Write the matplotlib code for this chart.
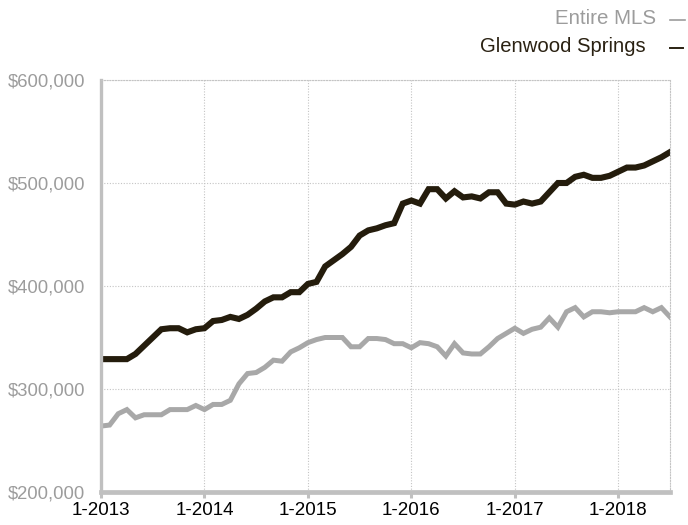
import matplotlib
matplotlib.use("Agg")
from matplotlib import pyplot as plt
from matplotlib.lines import Line2D

# Rolling 12-month median sales price, Jan 2013 - Jul 2018 (in $1000s)
glenwood = [329, 329, 329, 329, 334, 342, 350, 358, 359, 359, 355, 358,
            359, 366, 367, 370, 368, 372, 378, 385, 389, 389, 394, 394,
            402, 404, 419, 425, 431, 438, 449, 454, 456, 459, 461, 480,
            483, 480, 494, 494, 485, 492, 486, 487, 485, 491, 491, 480,
            479, 482, 480, 482, 491, 500, 500, 506, 508, 505, 505, 507,
            511, 515, 515, 517, 521, 525, 530]
entire_mls = [264, 265, 276, 280, 272, 275, 275, 275, 280, 280, 280, 284,
              280, 285, 285, 289, 305, 315, 316, 321, 328, 327, 336, 340,
              345, 348, 350, 350, 350, 341, 341, 349, 349, 348, 344, 344,
              340, 345, 344, 341, 332, 344, 335, 334, 334, 341, 349, 354,
              359, 354, 358, 360, 369, 360, 375, 379, 370, 375, 375, 374,
              375, 375, 375, 379, 375, 379, 370]
x_labels = ["1-2013", "1-2014", "1-2015", "1-2016", "1-2017", "1-2018"]
y_values = [200000, 300000, 400000, 500000, 600000]
y_labels = ["$200,000", "$300,000", "$400,000", "$500,000", "$600,000"]

dark = "#241c0c"
gray_line = "#a8a8a8"
axis_gray = "#c0c0c0"
label_gray = "#9c9c9c"

plt.rcParams["font.family"] = ["Liberation Sans", "DejaVu Sans"]

fig = plt.figure(figsize=(6.88, 5.25), dpi=100)
ax = fig.add_axes([101 / 688, 33 / 525, 569 / 688, 412 / 525])

months = list(range(len(glenwood)))
ax.plot(months, [v * 1000 for v in entire_mls], color=gray_line, lw=3.6,
        solid_joinstyle="miter", zorder=3)
ax.plot(months, [v * 1000 for v in glenwood], color=dark, lw=4.4,
        solid_joinstyle="miter", zorder=4)

ax.set_xlim(0, len(glenwood) - 1)
ax.set_ylim(200000, 600000)

ax.set_xticks(range(0, 12 * len(x_labels), 12))
ax.set_xticklabels(x_labels, fontsize=13.5, color="black")
ax.set_yticks(y_values)
ax.set_yticklabels(y_labels, fontsize=13.3, color=label_gray)

ax.tick_params(axis="x", length=4, width=2.2, color=axis_gray, pad=3)
ax.tick_params(axis="y", length=0, pad=11.5)

ax.grid(True, linestyle=(0, (1, 1.5)), color="#c4c4c4", lw=0.8)
ax.set_axisbelow(True)

ax.spines["left"].set_color(axis_gray)
ax.spines["left"].set_linewidth(2.4)
ax.spines["bottom"].set_color(axis_gray)
ax.spines["bottom"].set_linewidth(3.4)
for side in ["top", "right"]:
    ax.spines[side].set_color("#c4c4c4")
    ax.spines[side].set_linewidth(0.8)
    ax.spines[side].set_linestyle((0, (1, 1.5)))
for sp in ax.spines.values():
    sp.set_zorder(5)

# legend entries, top right
fig.text(656 / 688, 1 - 19 / 525, "Entire MLS", fontsize=14.8,
         color=label_gray, ha="right", va="center")
fig.text(646 / 688, 1 - 47 / 525, "Glenwood Springs", fontsize=14.6,
         color="#2a2112", ha="right", va="center")
fig.add_artist(Line2D([670 / 688, 685 / 688], [1 - 20 / 525, 1 - 20 / 525],
                      color=label_gray, lw=1.2))
fig.add_artist(Line2D([670 / 688, 683 / 688], [1 - 48 / 525, 1 - 48 / 525],
                      color="#2a2112", lw=1.4))

fig.savefig("out.png", dpi=100)
